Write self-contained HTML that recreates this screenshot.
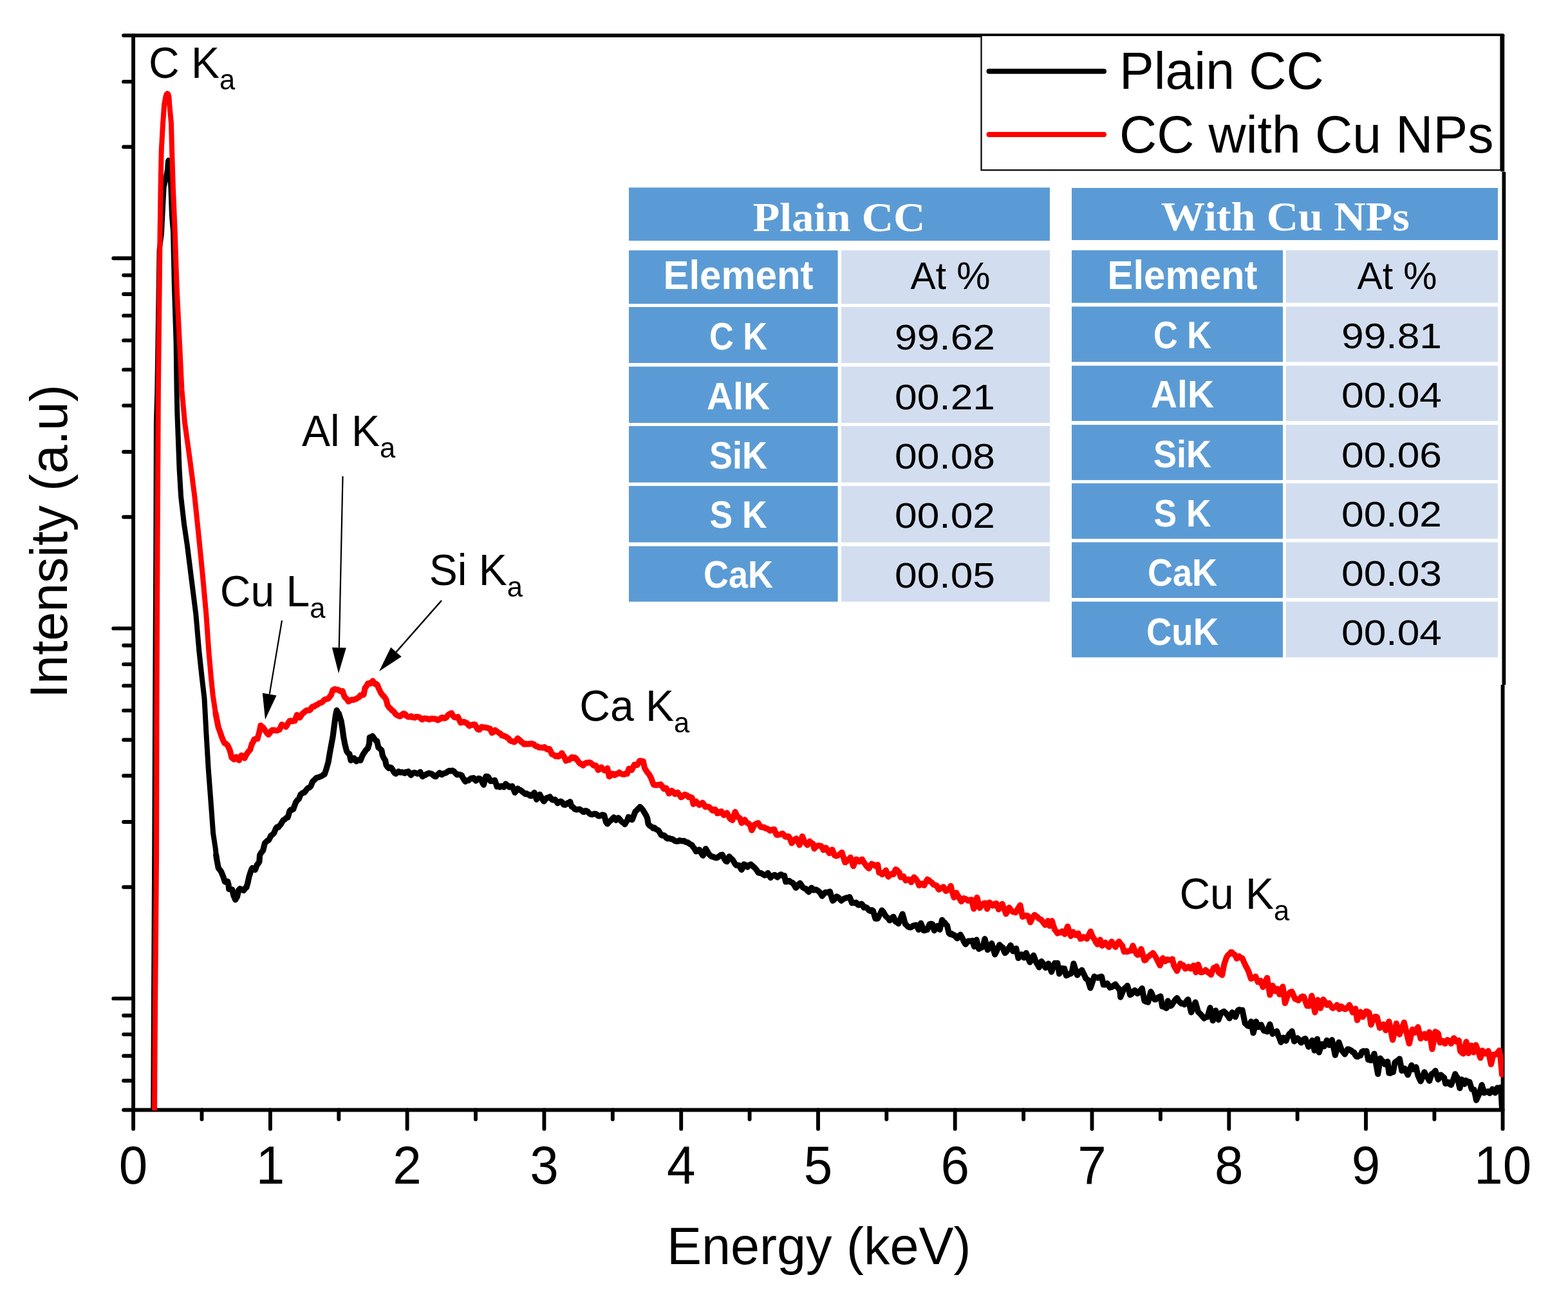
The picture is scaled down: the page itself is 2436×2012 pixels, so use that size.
<!DOCTYPE html>
<html lang="en"><head><meta charset="utf-8"><title>EDS spectra: Plain CC vs CC with Cu NPs</title>
<style>html,body{margin:0;padding:0;background:#fff}body{width:2436px;height:2012px;overflow:hidden}svg{display:block}text{font-family:"Liberation Sans",sans-serif;fill:#000}.ser{font-family:"Liberation Serif",serif;font-weight:bold;fill:#fff}.tb{font-weight:bold;fill:#fff}</style></head><body>
<svg width="2436" height="2012" viewBox="0 0 2436 2012" role="img" aria-label="EDS spectra of plain carbon cloth and carbon cloth with Cu nanoparticles">
<rect width="2436" height="2012" fill="#fff"/>
<g stroke="#000" stroke-width="5.9" stroke-linecap="round" fill="none">
<path d="M207.1,55.1 V1753.9"/>
<path d="M192.1,55.1 H2334.6"/>
<path d="M192.1,1724.5 H2334.6"/>
<path stroke-linecap="butt" d="M2334.3,55.1 V267 M2334.6,1064 V1724.5"/>
<path d="M2334.6,1724.5 V1753.9"/>
<path d="M176.3,401.3 H207.1 M176.3,976.4 H207.1 M176.3,1551.4 H207.1 M192.1,228.2 H207.1 M192.1,126.9 H207.1 M192.1,803.2 H207.1 M192.1,702.0 H207.1 M192.1,630.1 H207.1 M192.1,574.4 H207.1 M192.1,528.9 H207.1 M192.1,490.4 H207.1 M192.1,457.0 H207.1 M192.1,427.6 H207.1 M192.1,1378.3 H207.1 M192.1,1277.0 H207.1 M192.1,1205.2 H207.1 M192.1,1149.5 H207.1 M192.1,1103.9 H207.1 M192.1,1065.4 H207.1 M192.1,1032.1 H207.1 M192.1,1002.7 H207.1 M192.1,1679.0 H207.1 M192.1,1640.5 H207.1 M192.1,1607.1 H207.1 M192.1,1577.7 H207.1"/>
<path d="M419.9,1724.5 V1753.9 M632.6,1724.5 V1753.9 M845.4,1724.5 V1753.9 M1058.2,1724.5 V1753.9 M1271.0,1724.5 V1753.9 M1483.7,1724.5 V1753.9 M1696.5,1724.5 V1753.9 M1909.3,1724.5 V1753.9 M2122.0,1724.5 V1753.9 M313.5,1724.5 V1739.0 M526.3,1724.5 V1739.0 M739.0,1724.5 V1739.0 M951.8,1724.5 V1739.0 M1164.6,1724.5 V1739.0 M1377.3,1724.5 V1739.0 M1590.1,1724.5 V1739.0 M1802.9,1724.5 V1739.0 M2015.6,1724.5 V1739.0 M2228.4,1724.5 V1739.0"/>
</g>
<clipPath id="pc"><rect x="207.1" y="55.1" width="2128.7" height="1670.2"/></clipPath>
<g clip-path="url(#pc)" fill="none" stroke-linejoin="round" stroke-linecap="round" stroke-width="8">
<path stroke="#000" d="M238.2,1730.0 L238.9,1568.0 L240.2,1328.0 L241.2,1088.0 L242.3,848.0 L242.9,657.0 L244.3,608.0 L247.6,388.0 L251.0,363.0 L253.1,320.0 L254.6,291.4 L258.0,275.0 L260.2,262.0 L261.0,250.5 L261.8,249.0 L262.6,251.0 L263.4,263.0 L265.4,291.0 L266.9,334.0 L269.0,360.0 L270.9,445.7 L273.6,531.4 L274.6,608.0 L275.4,643.0 L277.0,685.7 L278.6,728.6 L281.1,771.4 L286.0,814.3 L291.0,848.0 L297.1,897.0 L304.3,954.0 L309.3,1011.4 L313.9,1054.3 L317.5,1085.0 L320.3,1137.0 L323.7,1194.3 L328.0,1251.4 L331.1,1294.3 L335.0,1320.0 L335.7,1328.6"/>
<path stroke="#000" stroke-width="9.2" d="M335.7,1328.6 L337.1,1337.1 L339.3,1348.6 L341.4,1351.3 L343.6,1354.3 L345.4,1358.6 L347.1,1362.9 L349.3,1370.0 L351.4,1370.5 L353.6,1369.3 L355.0,1374.3 L355.7,1381.4 L358.2,1381.7 L360.7,1382.1 L362.9,1391.4 L365.7,1397.9 L368.6,1392.9 L370.7,1382.9 L372.9,1380.7 L374.8,1381.7 L376.7,1382.8 L378.6,1383.6 L380.7,1380.4 L382.9,1378.6 L385.0,1371.4 L387.1,1361.4 L388.9,1356.1 L390.7,1350.7 L392.1,1348.6 L394.3,1350.3 L396.4,1351.4 L399.3,1343.6 L401.1,1341.6 L402.9,1338.6 L403.6,1328.6 L406.1,1324.3 L408.6,1321.4 L411.4,1310.0 L413.3,1308.2 L415.2,1306.3 L417.1,1305.7 L418.9,1302.6 L420.7,1298.6 L423.2,1296.8 L425.7,1294.3 L428.6,1287.1 L430.5,1284.8 L432.4,1285.3 L434.3,1282.9 L436.2,1280.8 L438.1,1277.4 L440.0,1274.3 L442.4,1273.1 L444.8,1270.7 L447.1,1270.0 L450.0,1260.0 L451.9,1258.1 L453.8,1258.2 L455.7,1257.1 L457.9,1250.9 L460.0,1245.7 L462.1,1243.0 L464.3,1241.4 L467.1,1234.3 L469.0,1232.8 L471.0,1231.4 L472.9,1231.4 L475.0,1228.5 L477.1,1225.7 L479.0,1224.2 L481.0,1223.5 L482.9,1221.4 L485.7,1214.3 L487.6,1212.4 L489.5,1210.8 L491.4,1208.6 L493.6,1207.9 L495.7,1207.5 L497.9,1206.3 L500.0,1205.7 L502.1,1203.8 L504.3,1202.9 L507.1,1194.3 L510.0,1184.3 L512.1,1171.4 L515.0,1155.7 L517.1,1144.3 L519.3,1127.1 L521.4,1111.4 L523.1,1103.6 L524.8,1106.9 L526.4,1108.6 L528.2,1114.8 L530.0,1120.0 L532.1,1132.9 L533.6,1144.3 L535.7,1155.7 L538.6,1167.1 L540.7,1170.0 L542.9,1171.4 L545.0,1181.4 L547.5,1180.1 L550.0,1177.9 L551.8,1180.0 L553.6,1182.9 L556.4,1180.7 L558.2,1180.5 L560.0,1181.4 L562.9,1174.3 L564.6,1171.1 L566.4,1168.6 L568.9,1164.9 L571.4,1162.9 L573.6,1155.7 L574.3,1145.7 L576.4,1145.2 L578.6,1143.6 L580.4,1145.9 L582.1,1148.6 L583.9,1150.7 L585.7,1151.4 L587.9,1161.4 L590.4,1163.3 L592.9,1165.7 L594.3,1173.6 L596.4,1178.2 L598.6,1181.4 L600.0,1188.6 L602.1,1191.8 L604.3,1193.6 L606.1,1192.2 L607.9,1192.9 L609.6,1195.2 L611.4,1198.6 L613.2,1201.2 L615.0,1202.1 L617.1,1200.3 L619.3,1198.6 L621.8,1200.1 L624.3,1199.7 L626.4,1200.4 L628.6,1201.4 L630.5,1199.6 L632.4,1199.8 L634.3,1198.6 L636.4,1202.0 L638.6,1204.3 L640.4,1202.0 L642.1,1200.7 L644.3,1200.4 L646.4,1201.3 L648.6,1202.1 L650.7,1201.6 L652.9,1199.3 L654.6,1203.2 L656.4,1206.4 L658.6,1204.6 L660.7,1204.3 L662.5,1202.7 L664.3,1202.1 L666.4,1201.2 L668.6,1201.9 L670.7,1202.2 L672.9,1204.3 L675.0,1206.0 L677.1,1206.4 L679.0,1203.9 L681.0,1202.7 L682.9,1200.7 L684.6,1202.0 L686.4,1203.6 L688.6,1201.9 L690.7,1201.4 L693.2,1200.5 L695.7,1198.6 L698.1,1197.4 L700.5,1197.9 L702.9,1197.1 L705.2,1198.5 L707.6,1201.3 L710.0,1203.6 L712.4,1203.2 L714.8,1203.6 L717.1,1204.3 L719.0,1208.4 L721.0,1211.4 L722.9,1214.3 L725.2,1212.7 L727.6,1212.7 L730.0,1210.7 L731.9,1209.4 L733.8,1209.1 L735.7,1208.6 L737.5,1211.4 L739.3,1212.9 L741.4,1211.4 L743.6,1209.3 L745.7,1209.9 L747.9,1212.1 L749.6,1216.4 L751.4,1219.3 L753.2,1212.6 L755.0,1206.4 L756.8,1206.3 L758.6,1207.1 L760.4,1210.8 L762.1,1213.6 L763.9,1213.2 L765.7,1213.6 L768.6,1212.1 L770.4,1216.9 L772.1,1222.1 L774.3,1221.6 L776.4,1222.9 L778.2,1221.3 L780.0,1221.4 L782.9,1222.9 L785.7,1217.9 L787.6,1219.7 L789.5,1220.7 L791.4,1222.9 L793.6,1222.3 L795.7,1221.4 L797.9,1226.3 L800.0,1231.4 L802.1,1228.1 L804.3,1225.0 L806.2,1227.1 L808.1,1227.3 L810.0,1228.6 L812.1,1230.5 L814.3,1232.1 L816.2,1233.6 L818.1,1232.9 L820.0,1234.3 L821.9,1234.3 L823.8,1236.5 L825.7,1236.4 L827.9,1234.6 L830.0,1231.4 L831.8,1236.5 L833.6,1242.1 L836.1,1237.7 L838.6,1234.3 L840.7,1238.3 L842.9,1242.2 L845.0,1245.0 L847.5,1241.5 L850.0,1239.3 L852.1,1239.5 L854.3,1237.9 L856.4,1241.1 L858.6,1242.9 L860.4,1242.7 L862.1,1242.1 L864.3,1244.8 L866.4,1247.9 L868.9,1245.6 L871.4,1245.0 L873.6,1246.6 L875.7,1250.0 L877.9,1250.6 L880.0,1249.3 L881.9,1247.6 L883.8,1247.3 L885.7,1245.7 L887.9,1252.9 L890.2,1254.0 L892.6,1256.8 L895.0,1257.9 L897.5,1257.7 L900.0,1257.1 L901.9,1258.2 L903.8,1259.4 L905.7,1261.4 L907.6,1261.4 L909.5,1259.6 L911.4,1260.0 L913.3,1261.1 L915.2,1263.5 L917.1,1265.0 L919.5,1265.5 L921.9,1264.8 L924.3,1264.3 L926.7,1265.0 L929.0,1267.5 L931.4,1267.9 L933.8,1266.8 L936.2,1265.9 L938.6,1266.4 L941.4,1277.1 L943.6,1280.0 L946.1,1277.0 L948.6,1275.0 L951.1,1272.4 L953.6,1270.0 L955.4,1271.3 L957.1,1274.3 L958.9,1271.9 L960.7,1270.7 L962.9,1273.0 L965.0,1275.7 L966.9,1277.5 L968.8,1278.3 L970.7,1280.7 L972.5,1277.6 L974.3,1275.0 L976.4,1269.3 L978.3,1271.5 L980.2,1273.1 L982.1,1273.6 L984.6,1267.3 L987.1,1260.7 L989.5,1258.7 L991.9,1256.1 L994.3,1253.6 L996.7,1256.0 L999.0,1258.9 L1001.4,1262.9 L1003.6,1266.5 L1005.7,1271.4 L1007.1,1280.0 L1009.0,1282.5 L1011.0,1283.7 L1012.9,1285.0 L1014.8,1286.9 L1016.7,1285.9 L1018.6,1287.9 L1020.7,1289.2 L1022.9,1290.0 L1025.0,1293.5 L1027.1,1297.1 L1029.0,1298.1 L1031.0,1297.7 L1032.9,1298.6 L1035.0,1301.7 L1037.1,1302.9 L1039.5,1302.2 L1041.9,1303.4 L1044.3,1303.6 L1046.7,1305.2 L1049.0,1306.8 L1051.4,1307.1 L1053.6,1306.9 L1055.7,1305.7 L1058.1,1306.4 L1060.5,1306.8 L1062.9,1306.4 L1065.2,1308.4 L1067.6,1308.5 L1070.0,1310.0 L1072.5,1311.8 L1075.0,1312.9 L1076.8,1316.1 L1078.6,1317.9 L1081.4,1322.9 L1083.9,1322.2 L1086.4,1320.0 L1088.3,1323.0 L1090.2,1326.7 L1092.1,1329.3 L1094.3,1324.4 L1096.4,1318.6 L1098.9,1323.0 L1101.4,1327.1 L1103.6,1329.2 L1105.7,1330.7 L1108.1,1331.2 L1110.5,1332.3 L1112.9,1332.9 L1115.0,1332.0 L1117.1,1330.7 L1119.6,1328.4 L1122.1,1327.9 L1123.9,1331.6 L1125.7,1335.0 L1127.5,1337.8 L1129.3,1338.6 L1131.1,1335.1 L1132.9,1330.7 L1135.4,1333.7 L1137.9,1335.7 L1139.8,1338.4 L1141.7,1341.8 L1143.6,1344.3 L1145.7,1344.4 L1147.9,1344.3 L1150.0,1347.8 L1152.1,1351.4 L1153.9,1347.6 L1155.7,1342.9 L1157.6,1343.5 L1159.5,1346.2 L1161.4,1347.1 L1163.9,1344.1 L1166.4,1342.9 L1168.6,1345.0 L1170.7,1346.6 L1172.9,1348.6 L1175.4,1351.6 L1177.9,1355.7 L1180.0,1356.5 L1182.1,1356.4 L1184.0,1357.6 L1186.0,1359.0 L1187.9,1360.0 L1190.4,1359.1 L1192.9,1356.4 L1195.0,1359.6 L1197.1,1363.6 L1199.3,1361.2 L1201.4,1360.3 L1203.6,1359.3 L1205.7,1361.4 L1207.9,1362.9 L1209.8,1360.8 L1211.7,1359.3 L1213.6,1358.6 L1216.1,1360.5 L1218.6,1360.7 L1220.7,1370.0 L1222.6,1369.8 L1224.5,1368.9 L1226.4,1368.6 L1228.9,1370.8 L1231.4,1371.4 L1233.9,1375.1 L1236.4,1379.3 L1238.6,1377.2 L1240.7,1373.9 L1242.9,1372.1 L1245.0,1375.2 L1247.1,1378.6 L1249.6,1380.3 L1252.1,1380.7 L1254.3,1384.0 L1256.4,1385.7 L1258.6,1383.2 L1260.7,1379.3 L1262.5,1380.8 L1264.3,1382.9 L1266.1,1382.7 L1267.9,1382.1 L1270.4,1383.6 L1272.9,1385.7 L1275.0,1388.3 L1277.1,1392.1 L1279.6,1389.3 L1282.1,1386.4 L1284.5,1386.6 L1286.9,1386.2 L1289.3,1385.0 L1291.4,1392.3 L1293.6,1399.3 L1295.7,1398.0 L1297.9,1394.6 L1300.0,1392.9 L1302.4,1394.3 L1304.8,1397.0 L1307.1,1399.3 L1309.0,1397.6 L1311.0,1396.3 L1312.9,1395.7 L1315.2,1394.8 L1317.6,1394.5 L1320.0,1393.6 L1321.8,1398.2 L1323.6,1402.9 L1325.7,1402.2 L1327.9,1403.1 L1330.0,1402.1 L1332.9,1405.7 L1334.8,1406.2 L1336.7,1404.7 L1338.6,1404.3 L1340.4,1406.4 L1342.1,1410.0 L1344.6,1409.4 L1347.1,1410.7 L1350.0,1414.3 L1352.1,1415.3 L1354.3,1413.8 L1356.4,1415.0 L1358.2,1421.3 L1360.0,1427.1 L1361.8,1427.3 L1363.6,1427.1 L1365.7,1422.6 L1367.9,1419.0 L1370.0,1414.3 L1371.9,1416.3 L1373.8,1419.4 L1375.7,1422.9 L1377.9,1425.1 L1380.0,1426.7 L1382.1,1430.0 L1384.0,1428.8 L1386.0,1425.7 L1387.9,1424.3 L1389.6,1427.7 L1391.4,1432.1 L1393.6,1432.7 L1395.7,1435.0 L1397.9,1430.2 L1400.0,1424.9 L1402.1,1420.0 L1404.3,1428.0 L1406.4,1435.7 L1408.6,1437.7 L1410.7,1439.7 L1412.9,1440.7 L1414.9,1440.9 L1416.9,1439.7 L1418.9,1438.0 L1420.9,1437.8 L1422.9,1437.1 L1425.0,1440.2 L1427.1,1444.3 L1428.9,1438.8 L1430.7,1434.3 L1432.9,1440.0 L1435.0,1445.7 L1436.9,1445.7 L1438.8,1444.1 L1440.7,1444.3 L1442.5,1439.7 L1444.3,1435.7 L1446.4,1435.4 L1448.6,1435.7 L1451.4,1445.7 L1453.9,1442.5 L1456.4,1438.6 L1458.2,1441.5 L1460.0,1444.3 L1461.8,1436.9 L1463.6,1429.3 L1465.5,1431.9 L1467.5,1433.4 L1469.5,1436.3 L1471.4,1437.9 L1474.3,1450.0 L1476.4,1451.5 L1478.6,1450.6 L1480.7,1453.0 L1482.9,1452.9 L1485.0,1455.8 L1487.1,1457.9 L1489.6,1454.3 L1492.1,1452.1 L1494.1,1455.8 L1496.1,1459.8 L1498.0,1464.0 L1500.0,1467.1 L1502.1,1464.4 L1504.3,1462.1 L1506.4,1462.0 L1508.6,1462.4 L1510.7,1461.4 L1513.6,1470.7 L1515.4,1465.7 L1517.1,1460.0 L1518.9,1467.5 L1520.7,1474.3 L1522.9,1473.0 L1525.0,1472.2 L1527.1,1470.7 L1530.0,1458.6 L1532.1,1466.9 L1534.3,1475.7 L1536.4,1472.8 L1538.6,1469.6 L1540.7,1465.7 L1543.2,1474.4 L1545.7,1482.9 L1548.1,1478.2 L1550.5,1472.5 L1552.9,1467.9 L1555.4,1470.8 L1557.9,1472.1 L1559.6,1477.0 L1561.4,1480.7 L1563.6,1478.6 L1565.7,1474.7 L1567.9,1472.1 L1570.0,1468.6 L1571.8,1473.0 L1573.6,1477.9 L1576.1,1476.5 L1578.6,1473.6 L1580.4,1481.3 L1582.1,1488.6 L1584.6,1485.4 L1587.1,1482.9 L1588.9,1484.6 L1590.7,1487.9 L1592.5,1484.2 L1594.3,1480.7 L1596.2,1485.5 L1598.1,1490.6 L1600.0,1495.0 L1601.9,1491.4 L1603.8,1487.1 L1605.7,1484.3 L1607.9,1490.3 L1610.0,1495.7 L1612.1,1498.6 L1614.3,1502.9 L1616.1,1498.6 L1617.9,1493.6 L1620.0,1496.3 L1622.1,1500.0 L1624.3,1503.6 L1626.4,1500.9 L1628.6,1497.1 L1631.1,1503.2 L1633.6,1510.0 L1636.1,1502.8 L1638.6,1496.4 L1640.7,1496.5 L1642.9,1496.4 L1645.7,1512.9 L1647.9,1508.9 L1650.0,1504.3 L1651.8,1505.3 L1653.6,1505.0 L1656.4,1515.7 L1658.9,1514.7 L1661.4,1512.9 L1663.2,1513.0 L1665.0,1511.4 L1667.9,1497.1 L1669.8,1503.1 L1671.7,1509.5 L1673.6,1515.0 L1676.0,1511.6 L1678.3,1509.2 L1680.7,1507.1 L1682.9,1511.7 L1685.0,1515.9 L1687.1,1520.7 L1690.0,1522.1 L1692.0,1528.8 L1694.0,1535.0 L1696.0,1529.2 L1698.0,1523.1 L1700.0,1517.1 L1701.9,1518.5 L1703.8,1518.7 L1705.7,1519.3 L1707.6,1518.2 L1709.5,1517.6 L1711.4,1517.1 L1714.3,1530.0 L1716.2,1530.0 L1718.1,1529.4 L1720.0,1527.9 L1722.1,1530.6 L1724.3,1534.3 L1726.4,1533.7 L1728.6,1532.7 L1730.7,1530.6 L1732.9,1529.3 L1735.2,1532.8 L1737.6,1535.4 L1740.0,1539.3 L1740.7,1549.3 L1743.2,1543.3 L1745.7,1537.1 L1747.6,1535.2 L1749.5,1533.5 L1751.4,1531.4 L1753.6,1538.1 L1755.7,1545.7 L1758.1,1544.3 L1760.5,1541.0 L1762.9,1538.6 L1765.0,1540.9 L1767.1,1543.6 L1769.5,1541.6 L1771.9,1538.5 L1774.3,1535.7 L1776.1,1545.4 L1777.9,1555.0 L1779.8,1556.1 L1781.7,1555.6 L1783.6,1557.1 L1785.7,1549.0 L1787.9,1540.7 L1789.8,1544.6 L1791.7,1549.4 L1793.6,1552.9 L1795.4,1553.0 L1797.1,1551.4 L1799.0,1549.8 L1801.0,1549.0 L1802.9,1547.9 L1805.7,1563.6 L1807.9,1563.8 L1810.0,1565.3 L1812.1,1566.4 L1814.3,1555.0 L1816.4,1559.4 L1818.6,1562.9 L1820.6,1561.2 L1822.6,1558.0 L1824.6,1555.2 L1826.6,1552.5 L1828.6,1550.7 L1830.7,1554.1 L1832.9,1557.1 L1835.2,1559.2 L1837.6,1558.8 L1840.0,1560.7 L1841.9,1558.6 L1843.8,1554.6 L1845.7,1552.9 L1848.2,1562.6 L1850.7,1572.9 L1852.9,1567.3 L1855.0,1562.6 L1857.1,1557.1 L1859.3,1564.5 L1861.4,1572.1 L1863.9,1574.4 L1866.4,1577.1 L1868.6,1579.9 L1870.7,1582.1 L1873.2,1580.3 L1875.7,1580.0 L1877.9,1573.1 L1880.0,1565.7 L1882.1,1575.5 L1884.3,1585.7 L1886.4,1577.9 L1888.6,1570.0 L1890.7,1576.9 L1892.9,1584.3 L1895.0,1578.6 L1897.1,1573.6 L1899.3,1572.6 L1901.4,1571.4 L1903.6,1573.4 L1905.7,1575.7 L1907.9,1578.7 L1910.0,1582.1 L1912.1,1577.4 L1914.3,1572.9 L1916.8,1576.5 L1919.3,1580.0 L1921.4,1574.2 L1923.6,1569.3 L1925.7,1568.7 L1927.9,1569.5 L1930.0,1569.3 L1932.1,1579.7 L1934.3,1590.0 L1936.2,1591.5 L1938.1,1593.6 L1940.0,1594.3 L1941.8,1590.9 L1943.6,1587.1 L1945.4,1596.3 L1947.1,1605.0 L1949.3,1595.9 L1951.4,1587.1 L1953.2,1591.7 L1955.0,1595.7 L1957.1,1594.5 L1959.3,1592.1 L1961.4,1597.3 L1963.6,1601.4 L1966.1,1601.8 L1968.6,1602.9 L1970.7,1596.9 L1972.9,1591.4 L1975.0,1599.3 L1977.1,1606.4 L1979.3,1604.4 L1981.4,1604.6 L1983.6,1602.1 L1985.7,1608.3 L1987.9,1613.2 L1990.0,1619.3 L1991.8,1615.3 L1993.6,1612.1 L1995.7,1615.1 L1997.9,1617.1 L1999.6,1612.9 L2001.4,1609.3 L2003.3,1606.1 L2005.2,1605.2 L2007.1,1602.1 L2008.9,1609.9 L2010.7,1617.9 L2013.2,1615.9 L2015.7,1612.9 L2017.6,1614.5 L2019.5,1617.4 L2021.4,1620.0 L2023.6,1618.2 L2025.7,1614.7 L2027.9,1613.6 L2030.4,1619.7 L2032.9,1626.4 L2034.8,1623.4 L2036.7,1620.4 L2038.6,1616.4 L2040.4,1624.6 L2042.1,1632.1 L2044.3,1622.9 L2046.4,1614.3 L2049.3,1635.0 L2051.4,1628.6 L2053.6,1622.1 L2055.4,1624.4 L2057.1,1625.7 L2059.3,1621.1 L2061.4,1616.4 L2063.2,1620.3 L2065.0,1623.6 L2067.1,1619.2 L2069.3,1615.7 L2071.8,1627.2 L2074.3,1639.3 L2076.2,1632.3 L2078.1,1625.5 L2080.0,1619.3 L2082.1,1625.4 L2084.3,1631.4 L2086.8,1634.7 L2089.3,1637.9 L2091.4,1634.0 L2093.6,1630.0 L2095.6,1630.3 L2097.6,1631.4 L2099.6,1632.4 L2101.6,1634.7 L2103.6,1635.0 L2105.4,1639.0 L2107.1,1641.4 L2109.3,1641.8 L2111.4,1639.7 L2113.6,1640.0 L2115.7,1634.3 L2118.1,1632.9 L2120.5,1634.2 L2122.9,1632.9 L2125.7,1646.4 L2127.6,1646.6 L2129.5,1647.4 L2131.4,1647.1 L2133.2,1642.0 L2135.0,1637.1 L2136.9,1647.6 L2138.8,1658.1 L2140.7,1668.6 L2142.5,1656.4 L2144.3,1644.3 L2146.7,1647.6 L2149.0,1649.5 L2151.4,1653.6 L2153.6,1651.8 L2155.7,1649.3 L2157.9,1667.1 L2160.0,1667.4 L2162.1,1665.6 L2164.3,1665.7 L2167.1,1650.7 L2169.5,1648.7 L2171.9,1647.4 L2174.3,1645.0 L2176.1,1654.2 L2177.9,1663.6 L2180.0,1661.2 L2182.1,1660.0 L2184.6,1664.5 L2187.1,1670.0 L2189.0,1665.0 L2191.0,1659.4 L2192.9,1655.0 L2195.7,1661.4 L2197.9,1660.4 L2200.0,1657.9 L2202.9,1670.7 L2205.0,1675.8 L2207.1,1680.0 L2209.0,1675.5 L2211.0,1670.9 L2212.9,1665.7 L2214.8,1669.3 L2216.8,1672.3 L2218.8,1676.1 L2220.7,1679.3 L2222.5,1673.9 L2224.3,1668.6 L2226.2,1667.9 L2228.1,1665.8 L2230.0,1663.6 L2232.1,1670.1 L2234.3,1677.1 L2236.4,1674.2 L2238.6,1670.0 L2241.1,1672.6 L2243.6,1674.3 L2245.7,1683.6 L2247.9,1683.1 L2250.0,1681.4 L2252.1,1684.2 L2254.3,1685.7 L2256.1,1681.3 L2257.9,1677.1 L2260.7,1668.6 L2262.5,1672.1 L2264.3,1674.3 L2266.1,1682.8 L2267.9,1690.7 L2270.7,1677.1 L2272.9,1681.0 L2275.0,1684.3 L2277.1,1678.6 L2279.0,1679.8 L2281.0,1680.5 L2282.9,1680.7 L2284.6,1686.3 L2286.4,1692.1 L2288.2,1692.9 L2290.0,1692.9 L2291.8,1700.8 L2293.6,1709.3 L2295.7,1704.4 L2297.9,1700.0 L2300.0,1692.8 L2302.1,1685.7 L2303.9,1691.3 L2305.7,1697.9 L2307.6,1696.9 L2309.5,1696.7 L2311.4,1695.7 L2314.3,1698.6 L2316.4,1695.6 L2318.6,1692.1 L2320.7,1694.5 L2322.9,1697.9 L2324.6,1694.5 L2326.4,1690.0 L2328.2,1692.1 L2330.0,1693.6 L2331.7,1689.3 L2332.6,1705.7 L2333.7,1725.7"/>
<path stroke="#ff0000" d="M240.0,1730.0 L241.1,1568.0 L243.1,1328.0 L243.6,1080.0 L244.6,848.0 L245.9,608.0 L248.6,360.0 L249.6,291.0 L250.7,234.3 L253.1,191.4 L255.1,162.9 L257.2,151.0 L258.6,146.2 L260.0,145.2 L261.4,146.2 L262.6,151.0 L263.3,163.0 L266.0,191.0 L267.1,234.0 L268.9,291.0 L271.9,363.0 L274.6,445.7 L278.9,531.4 L282.4,605.0 L287.1,657.0 L295.0,714.0 L302.4,771.4 L310.3,848.0 L315.1,897.0 L320.3,954.0 L324.3,1011.4 L328.1,1054.3 L330.7,1080.0 L335.0,1108.6"/>
<path stroke="#ff0000" stroke-width="9.2" d="M335.0,1108.6 L337.1,1119.3 L339.3,1130.0 L341.8,1137.0 L344.3,1144.3 L346.4,1149.7 L348.6,1154.3 L351.1,1155.6 L353.6,1157.9 L355.4,1161.8 L357.1,1165.7 L360.0,1177.1 L361.8,1178.3 L363.6,1180.0 L365.4,1177.8 L367.1,1176.0 L369.3,1179.5 L371.4,1181.1 L373.2,1176.8 L375.0,1173.6 L377.5,1175.6 L380.0,1177.9 L382.1,1173.5 L384.3,1170.0 L386.4,1167.2 L388.6,1165.0 L391.4,1155.7 L393.2,1152.9 L395.0,1148.6 L397.5,1147.9 L400.0,1147.9 L402.9,1137.1 L405.0,1127.1 L406.8,1128.8 L408.6,1130.0 L410.7,1133.1 L412.9,1136.4 L415.0,1139.4 L417.1,1141.4 L419.0,1138.9 L421.0,1136.0 L422.9,1134.3 L424.8,1134.4 L426.7,1134.6 L428.6,1135.0 L430.5,1135.1 L432.4,1134.2 L434.3,1133.6 L436.1,1129.2 L437.9,1125.7 L440.0,1127.3 L442.1,1127.7 L444.3,1129.3 L446.2,1126.2 L448.1,1122.6 L450.0,1120.0 L452.0,1119.8 L453.9,1120.6 L455.9,1120.0 L457.9,1120.0 L459.6,1115.6 L461.4,1110.7 L463.6,1113.4 L465.7,1115.0 L467.9,1111.9 L470.0,1108.6 L472.1,1107.2 L474.3,1105.0 L476.4,1103.6 L478.3,1103.6 L480.2,1103.6 L482.1,1102.9 L483.9,1099.6 L485.7,1097.9 L488.1,1097.8 L490.5,1095.7 L492.9,1095.0 L495.2,1093.1 L497.6,1091.9 L500.0,1091.4 L501.9,1089.4 L503.8,1087.2 L505.7,1086.4 L507.9,1085.9 L510.0,1085.7 L512.1,1082.7 L514.3,1080.0 L517.1,1072.1 L520.0,1070.7 L522.1,1071.4 L524.3,1071.4 L526.4,1072.4 L528.6,1073.6 L530.4,1074.4 L532.1,1073.6 L535.0,1082.1 L536.8,1084.2 L538.6,1085.7 L541.4,1090.0 L543.9,1088.2 L546.4,1087.1 L548.9,1087.5 L551.4,1086.4 L553.6,1085.8 L555.7,1084.3 L557.9,1083.1 L560.0,1080.0 L562.5,1080.1 L565.0,1079.3 L567.1,1068.6 L569.3,1066.2 L571.4,1062.1 L573.6,1061.6 L575.7,1062.1 L577.5,1059.6 L579.3,1057.9 L581.1,1061.2 L582.9,1062.9 L584.6,1062.6 L586.4,1064.3 L588.2,1069.1 L590.0,1072.9 L592.1,1077.1 L594.3,1080.0 L596.2,1081.7 L598.1,1084.1 L600.0,1087.1 L602.1,1095.7 L604.6,1099.4 L607.1,1101.4 L609.3,1104.1 L611.4,1105.0 L614.3,1109.3 L616.7,1111.2 L619.0,1112.1 L621.4,1112.9 L623.3,1111.9 L625.2,1109.6 L627.1,1108.6 L629.3,1109.3 L631.4,1112.2 L633.6,1113.6 L636.1,1113.8 L638.6,1112.6 L640.5,1114.3 L642.4,1114.2 L644.3,1115.0 L646.4,1113.7 L648.6,1113.7 L650.7,1114.0 L653.2,1115.8 L655.7,1117.9 L657.6,1116.8 L659.5,1116.0 L661.4,1116.4 L663.3,1116.3 L665.2,1117.4 L667.1,1117.9 L669.0,1116.8 L671.0,1116.4 L672.9,1116.9 L675.2,1116.9 L677.6,1117.3 L680.0,1118.9 L681.9,1118.1 L683.8,1117.0 L685.7,1115.0 L687.6,1114.7 L689.5,1115.9 L691.4,1116.0 L693.6,1114.5 L695.7,1111.4 L697.6,1109.7 L699.5,1108.7 L701.4,1107.9 L703.6,1111.7 L705.7,1114.3 L707.6,1114.6 L709.5,1114.1 L711.4,1113.6 L713.6,1118.6 L715.7,1122.9 L717.9,1122.3 L720.0,1121.4 L721.9,1121.8 L723.8,1123.2 L725.7,1123.6 L727.5,1126.3 L729.3,1127.9 L731.4,1126.3 L733.6,1126.4 L735.7,1125.7 L737.9,1125.7 L739.6,1128.6 L741.4,1132.1 L743.2,1133.6 L745.0,1133.6 L746.8,1131.0 L748.6,1129.3 L751.0,1130.1 L753.3,1130.1 L755.7,1130.7 L757.6,1130.9 L759.5,1131.7 L761.4,1132.1 L764.3,1138.6 L766.8,1137.2 L769.3,1134.3 L771.8,1136.4 L774.3,1137.9 L776.2,1139.3 L778.1,1140.5 L780.0,1142.9 L781.9,1143.0 L783.8,1143.8 L785.7,1144.3 L787.9,1146.0 L790.0,1147.1 L792.1,1150.3 L794.3,1151.4 L796.4,1151.8 L798.6,1152.9 L800.5,1151.8 L802.4,1149.9 L804.3,1147.1 L806.2,1148.9 L808.1,1150.4 L810.0,1152.9 L811.9,1153.5 L813.8,1156.1 L815.7,1156.4 L817.6,1155.5 L819.5,1156.2 L821.4,1155.7 L823.3,1156.0 L825.2,1155.0 L827.1,1155.7 L829.0,1156.0 L831.0,1158.4 L832.9,1159.3 L835.0,1159.5 L837.1,1161.4 L839.3,1161.5 L841.4,1161.4 L843.6,1162.0 L845.7,1160.7 L847.9,1162.4 L850.0,1164.3 L851.8,1163.6 L853.6,1163.6 L855.4,1167.0 L857.1,1171.4 L859.0,1172.2 L861.0,1173.5 L862.9,1175.0 L864.8,1174.2 L866.7,1175.4 L868.6,1175.0 L870.7,1172.7 L872.9,1170.0 L874.6,1173.2 L876.4,1175.7 L879.3,1182.1 L881.8,1180.6 L884.3,1180.7 L886.4,1178.1 L888.6,1176.4 L890.7,1178.0 L892.9,1176.9 L895.0,1178.6 L897.1,1181.2 L899.3,1184.3 L901.4,1186.6 L903.6,1187.1 L905.7,1189.3 L908.2,1186.6 L910.7,1185.0 L912.9,1185.3 L915.0,1184.5 L917.1,1185.0 L919.6,1186.8 L922.1,1189.3 L923.9,1189.1 L925.7,1189.3 L927.5,1192.6 L929.3,1196.4 L931.8,1194.6 L934.3,1192.1 L936.8,1195.1 L939.3,1197.1 L941.4,1195.9 L943.6,1193.6 L946.4,1206.4 L948.6,1205.2 L950.7,1202.1 L952.9,1202.4 L955.0,1204.3 L957.4,1202.4 L959.8,1202.4 L962.1,1200.0 L964.6,1202.0 L967.1,1202.9 L969.5,1203.1 L971.9,1201.8 L974.3,1202.1 L977.1,1194.3 L979.3,1194.6 L981.4,1196.4 L983.6,1191.8 L985.7,1187.9 L987.9,1189.0 L990.0,1188.6 L991.8,1185.7 L993.6,1182.1 L995.5,1182.1 L997.4,1182.9 L999.3,1182.9 L1001.4,1192.9 L1003.6,1196.8 L1005.7,1200.0 L1007.9,1202.4 L1010.0,1205.7 L1011.9,1209.7 L1013.8,1215.1 L1015.7,1219.3 L1017.6,1219.7 L1019.5,1219.9 L1021.4,1219.3 L1023.9,1219.4 L1026.4,1218.6 L1028.9,1221.9 L1031.4,1225.7 L1033.2,1225.3 L1035.0,1224.3 L1037.1,1228.4 L1039.3,1232.9 L1041.4,1231.5 L1043.6,1228.6 L1046.1,1230.3 L1048.6,1233.6 L1050.7,1232.9 L1052.9,1231.4 L1055.4,1234.7 L1057.9,1238.6 L1059.8,1238.0 L1061.7,1236.3 L1063.6,1234.3 L1065.7,1235.1 L1067.9,1236.2 L1070.0,1238.6 L1072.5,1238.4 L1075.0,1239.3 L1077.1,1249.3 L1079.3,1248.1 L1081.4,1245.0 L1083.9,1248.4 L1086.4,1250.7 L1088.9,1249.3 L1091.4,1247.1 L1093.6,1249.8 L1095.7,1253.6 L1097.6,1253.0 L1099.5,1253.5 L1101.4,1253.6 L1103.3,1255.5 L1105.2,1257.6 L1107.1,1259.3 L1109.3,1257.7 L1111.4,1257.9 L1114.3,1263.6 L1116.4,1263.3 L1118.6,1261.2 L1120.7,1260.7 L1122.5,1263.9 L1124.3,1266.4 L1126.8,1264.3 L1129.3,1262.9 L1131.1,1266.1 L1132.9,1270.0 L1135.4,1272.9 L1137.9,1274.3 L1140.0,1267.6 L1142.1,1261.4 L1143.9,1265.0 L1145.7,1268.6 L1147.5,1270.4 L1149.3,1270.7 L1152.1,1278.6 L1154.6,1276.7 L1157.1,1273.6 L1158.9,1276.5 L1160.7,1278.6 L1162.9,1279.5 L1165.0,1281.4 L1167.9,1290.0 L1170.0,1285.9 L1172.1,1281.4 L1174.0,1280.4 L1176.0,1279.1 L1177.9,1278.6 L1180.0,1282.3 L1182.1,1285.0 L1184.3,1285.3 L1186.4,1285.0 L1188.9,1286.9 L1191.4,1287.1 L1193.9,1288.8 L1196.4,1290.7 L1198.6,1289.3 L1200.7,1288.8 L1202.9,1288.6 L1204.6,1293.2 L1206.4,1297.1 L1208.9,1297.2 L1211.4,1296.4 L1213.6,1296.0 L1215.7,1295.0 L1217.9,1297.3 L1220.0,1300.0 L1221.9,1300.2 L1223.8,1299.1 L1225.7,1300.0 L1227.9,1304.5 L1230.0,1310.0 L1232.1,1307.7 L1234.3,1304.3 L1237.1,1302.9 L1239.6,1307.3 L1242.1,1312.9 L1244.3,1306.2 L1246.4,1299.3 L1248.2,1303.7 L1250.0,1308.6 L1252.1,1310.1 L1254.3,1312.9 L1256.1,1310.5 L1257.9,1307.1 L1260.4,1309.7 L1262.9,1310.7 L1265.0,1318.6 L1267.1,1316.1 L1269.3,1314.3 L1271.4,1313.6 L1273.6,1314.2 L1275.7,1314.3 L1277.5,1316.9 L1279.3,1320.7 L1281.1,1319.8 L1282.9,1317.1 L1284.8,1319.2 L1286.7,1322.9 L1288.6,1325.7 L1290.7,1322.2 L1292.9,1320.0 L1294.6,1323.7 L1296.4,1328.6 L1298.9,1329.9 L1301.4,1329.3 L1303.6,1328.0 L1305.7,1326.4 L1307.9,1324.3 L1310.4,1332.4 L1312.9,1340.0 L1315.0,1338.4 L1317.1,1335.7 L1319.3,1334.1 L1321.4,1332.1 L1323.6,1339.1 L1325.7,1345.7 L1327.9,1340.1 L1330.0,1335.0 L1332.5,1336.0 L1335.0,1338.6 L1337.1,1337.2 L1339.3,1335.0 L1341.8,1339.3 L1344.3,1342.9 L1346.2,1345.5 L1348.1,1347.4 L1350.0,1349.3 L1352.1,1345.0 L1354.3,1342.1 L1356.2,1343.6 L1358.1,1343.7 L1360.0,1345.7 L1361.8,1345.4 L1363.6,1343.6 L1365.7,1355.7 L1368.2,1356.2 L1370.7,1358.6 L1372.6,1356.0 L1374.5,1354.4 L1376.4,1352.1 L1378.2,1357.5 L1380.0,1362.1 L1382.1,1360.3 L1384.3,1357.9 L1386.1,1357.5 L1387.9,1358.6 L1389.6,1354.9 L1391.4,1350.7 L1393.3,1351.8 L1395.2,1353.7 L1397.1,1355.7 L1399.3,1362.9 L1401.4,1361.9 L1403.6,1361.4 L1405.4,1365.1 L1407.1,1367.9 L1409.6,1366.6 L1412.1,1366.4 L1413.9,1368.2 L1415.7,1370.7 L1417.9,1366.4 L1420.0,1362.9 L1422.5,1365.2 L1425.0,1368.6 L1427.9,1375.7 L1430.0,1373.7 L1432.1,1372.9 L1433.9,1374.1 L1435.7,1375.7 L1438.2,1370.6 L1440.7,1366.4 L1443.2,1367.7 L1445.7,1370.0 L1447.9,1371.4 L1450.0,1374.3 L1452.5,1375.2 L1455.0,1375.7 L1456.8,1379.2 L1458.6,1382.1 L1461.0,1380.2 L1463.3,1379.2 L1465.7,1377.9 L1467.5,1381.2 L1469.3,1384.3 L1471.1,1383.8 L1472.9,1381.4 L1475.0,1379.9 L1477.1,1376.4 L1479.3,1385.7 L1482.1,1394.3 L1483.9,1390.2 L1485.7,1387.1 L1487.5,1390.8 L1489.3,1392.9 L1491.4,1397.3 L1493.6,1400.7 L1495.4,1397.7 L1497.1,1395.7 L1499.5,1396.3 L1501.9,1398.1 L1504.3,1399.3 L1506.8,1398.1 L1509.3,1397.9 L1511.1,1404.9 L1512.9,1412.1 L1515.4,1403.1 L1517.9,1394.3 L1520.0,1402.5 L1522.1,1410.7 L1524.6,1407.6 L1527.1,1404.3 L1529.6,1403.0 L1532.1,1403.6 L1533.6,1412.1 L1535.4,1407.1 L1537.1,1402.1 L1539.6,1404.1 L1542.1,1407.1 L1544.0,1406.8 L1546.0,1404.0 L1547.9,1403.6 L1549.6,1407.8 L1551.4,1412.9 L1553.3,1409.7 L1555.2,1406.7 L1557.1,1404.3 L1559.0,1409.9 L1561.0,1414.3 L1562.9,1420.0 L1565.4,1415.6 L1567.9,1410.0 L1570.0,1413.1 L1572.1,1415.7 L1574.0,1416.9 L1576.0,1416.7 L1577.9,1417.9 L1580.2,1414.1 L1582.6,1409.8 L1585.0,1406.4 L1586.8,1415.5 L1588.6,1424.3 L1590.7,1423.7 L1592.9,1422.9 L1595.0,1422.4 L1597.1,1422.9 L1598.9,1427.7 L1600.7,1432.9 L1602.9,1428.3 L1605.0,1424.6 L1607.1,1421.4 L1609.3,1423.0 L1611.4,1424.3 L1613.3,1426.7 L1615.2,1427.9 L1617.1,1428.6 L1619.3,1431.1 L1621.4,1434.0 L1623.6,1437.1 L1625.7,1434.2 L1627.9,1430.7 L1630.7,1438.6 L1632.5,1434.6 L1634.3,1430.7 L1636.4,1437.8 L1638.6,1444.3 L1640.7,1446.6 L1642.9,1450.0 L1645.2,1448.8 L1647.6,1449.0 L1650.0,1447.1 L1652.1,1448.9 L1654.3,1451.4 L1656.4,1445.6 L1658.6,1439.3 L1661.1,1446.7 L1663.6,1454.3 L1665.4,1451.1 L1667.1,1447.9 L1668.9,1451.0 L1670.7,1452.9 L1672.9,1452.4 L1675.0,1450.0 L1676.8,1454.4 L1678.6,1458.6 L1680.7,1458.1 L1682.9,1455.7 L1684.8,1456.2 L1686.7,1457.3 L1688.6,1458.6 L1690.5,1454.5 L1692.4,1450.7 L1694.3,1447.1 L1696.4,1452.8 L1698.6,1457.1 L1700.7,1459.9 L1702.9,1464.4 L1705.0,1467.1 L1707.1,1463.9 L1709.3,1460.0 L1712.1,1469.3 L1714.6,1467.0 L1717.1,1464.3 L1719.0,1466.6 L1721.0,1469.7 L1722.9,1471.4 L1725.0,1466.5 L1727.1,1462.9 L1729.0,1466.5 L1731.0,1468.3 L1732.9,1471.4 L1734.8,1468.1 L1736.7,1464.8 L1738.6,1462.9 L1741.1,1466.6 L1743.6,1469.3 L1746.4,1478.6 L1748.6,1477.4 L1750.7,1478.8 L1752.9,1477.9 L1755.0,1477.0 L1757.1,1477.1 L1760.0,1469.3 L1761.9,1474.2 L1763.8,1478.0 L1765.7,1482.1 L1767.5,1483.5 L1769.3,1482.9 L1771.1,1478.0 L1772.9,1474.3 L1775.4,1483.1 L1777.9,1492.1 L1780.0,1491.2 L1782.1,1487.4 L1784.3,1486.4 L1786.7,1484.1 L1789.0,1482.3 L1791.4,1480.7 L1793.9,1484.6 L1796.4,1488.6 L1798.3,1492.6 L1800.2,1496.0 L1802.1,1500.0 L1804.3,1494.1 L1806.4,1488.6 L1808.2,1490.8 L1810.0,1493.6 L1811.8,1491.9 L1813.6,1490.7 L1815.4,1491.4 L1817.1,1491.4 L1819.3,1491.5 L1821.4,1490.0 L1823.6,1500.0 L1826.1,1504.4 L1828.6,1508.6 L1831.1,1502.6 L1833.6,1497.1 L1835.7,1499.1 L1837.9,1499.3 L1839.6,1501.8 L1841.4,1505.0 L1843.9,1504.0 L1846.4,1502.1 L1848.2,1504.1 L1850.0,1505.0 L1852.1,1502.5 L1854.3,1500.0 L1856.1,1505.1 L1857.9,1510.7 L1859.6,1504.5 L1861.4,1498.6 L1863.6,1504.9 L1865.7,1510.7 L1868.1,1510.5 L1870.5,1509.2 L1872.9,1507.1 L1875.0,1508.8 L1877.1,1511.0 L1879.3,1512.4 L1881.4,1514.3 L1883.6,1508.6 L1885.7,1503.6 L1887.9,1503.2 L1890.0,1501.4 L1891.8,1506.6 L1893.6,1511.4 L1896.1,1512.9 L1898.6,1515.0 L1900.4,1505.8 L1902.1,1497.1 L1903.9,1492.3 L1905.7,1487.1 L1907.9,1483.6 L1910.0,1482.5 L1912.1,1479.3 L1914.0,1479.6 L1916.0,1482.4 L1917.9,1482.9 L1919.6,1485.4 L1921.4,1489.3 L1923.2,1486.6 L1925.0,1485.7 L1927.5,1488.0 L1930.0,1488.6 L1932.1,1493.8 L1934.3,1498.6 L1936.2,1502.3 L1938.1,1505.8 L1940.0,1510.0 L1941.8,1515.6 L1943.6,1520.7 L1946.0,1518.8 L1948.3,1519.2 L1950.7,1517.1 L1952.5,1521.8 L1954.3,1525.7 L1956.4,1525.2 L1958.6,1523.6 L1960.4,1529.1 L1962.1,1533.6 L1964.3,1529.4 L1966.4,1524.6 L1968.6,1519.3 L1970.7,1532.3 L1972.9,1545.7 L1975.0,1538.4 L1977.1,1531.4 L1979.3,1535.2 L1981.4,1540.0 L1983.2,1538.1 L1985.0,1536.4 L1987.9,1545.0 L1990.4,1539.4 L1992.9,1532.9 L1994.6,1545.9 L1996.4,1558.6 L1998.9,1551.5 L2001.4,1544.3 L2003.3,1542.7 L2005.2,1541.0 L2007.1,1540.7 L2009.6,1546.6 L2012.1,1552.1 L2014.6,1552.8 L2017.1,1554.3 L2019.3,1551.6 L2021.4,1549.3 L2023.6,1548.0 L2025.7,1548.6 L2028.2,1556.1 L2030.7,1562.9 L2032.5,1562.2 L2034.3,1562.9 L2036.1,1554.8 L2037.9,1547.1 L2040.4,1560.0 L2042.9,1572.9 L2045.0,1563.0 L2047.1,1553.6 L2049.3,1559.9 L2051.4,1566.4 L2053.6,1560.0 L2055.7,1552.9 L2057.6,1555.7 L2059.5,1557.7 L2061.4,1561.4 L2063.2,1560.0 L2065.0,1558.6 L2066.9,1561.6 L2068.8,1564.6 L2070.7,1566.4 L2072.9,1565.1 L2075.0,1564.1 L2077.1,1561.4 L2078.9,1565.0 L2080.7,1567.9 L2083.6,1563.6 L2085.7,1565.1 L2087.9,1567.0 L2090.0,1567.9 L2092.1,1566.6 L2094.3,1564.4 L2096.4,1561.4 L2098.9,1566.7 L2101.4,1572.9 L2103.6,1570.8 L2105.7,1567.1 L2108.6,1585.0 L2111.1,1578.6 L2113.6,1572.1 L2115.4,1576.4 L2117.1,1580.0 L2119.6,1576.0 L2122.1,1571.4 L2124.6,1571.8 L2127.1,1573.6 L2130.0,1592.1 L2132.1,1586.5 L2134.3,1580.7 L2136.8,1579.4 L2139.3,1580.0 L2141.4,1588.6 L2143.6,1597.1 L2145.5,1594.7 L2147.4,1592.5 L2149.3,1591.4 L2151.1,1596.1 L2152.9,1600.7 L2155.4,1594.0 L2157.9,1587.1 L2159.8,1596.4 L2161.7,1606.3 L2163.6,1615.7 L2165.5,1607.5 L2167.4,1598.6 L2169.3,1590.0 L2171.8,1598.4 L2174.3,1607.1 L2176.7,1600.9 L2179.0,1594.6 L2181.4,1588.6 L2183.4,1596.8 L2185.4,1605.2 L2187.3,1613.4 L2189.3,1621.4 L2191.8,1610.2 L2194.3,1599.3 L2196.4,1602.7 L2198.6,1604.3 L2200.7,1600.7 L2202.9,1595.7 L2205.0,1604.6 L2207.1,1613.6 L2209.0,1611.1 L2211.0,1608.5 L2212.9,1606.4 L2215.7,1612.9 L2218.2,1607.5 L2220.7,1603.6 L2222.9,1616.9 L2225.0,1630.0 L2227.5,1616.5 L2230.0,1602.9 L2232.1,1604.1 L2234.3,1605.7 L2237.1,1620.0 L2239.3,1618.1 L2241.4,1617.1 L2243.2,1619.6 L2245.0,1621.4 L2246.8,1617.8 L2248.6,1615.7 L2251.4,1617.1 L2254.3,1621.4 L2256.4,1617.1 L2258.6,1612.9 L2260.7,1615.3 L2262.9,1618.6 L2264.6,1616.9 L2266.4,1616.4 L2268.6,1632.9 L2271.1,1635.6 L2273.6,1637.1 L2275.7,1628.1 L2277.9,1618.6 L2279.6,1627.4 L2281.4,1636.4 L2283.6,1630.6 L2285.7,1624.3 L2287.5,1629.3 L2289.3,1635.0 L2291.1,1629.6 L2292.9,1623.6 L2294.6,1628.3 L2296.4,1632.9 L2298.2,1638.6 L2300.0,1643.6 L2302.9,1632.1 L2305.0,1635.5 L2307.1,1637.1 L2309.6,1634.9 L2312.1,1632.9 L2314.3,1643.3 L2316.4,1653.6 L2318.2,1646.3 L2320.0,1638.6 L2322.1,1638.4 L2324.3,1637.9 L2326.8,1635.5 L2329.3,1632.1 L2331.1,1642.9 L2332.4,1657.1 L2333.4,1669.4"/>
</g>
<g font-size="80" text-anchor="middle">
<text transform="translate(207.1,1839.3) scale(1,1.04)">0</text>
<text transform="translate(419.9,1839.3) scale(1,1.04)">1</text>
<text transform="translate(632.6,1839.3) scale(1,1.04)">2</text>
<text transform="translate(845.4,1839.3) scale(1,1.04)">3</text>
<text transform="translate(1058.2,1839.3) scale(1,1.04)">4</text>
<text transform="translate(1271.0,1839.3) scale(1,1.04)">5</text>
<text transform="translate(1483.7,1839.3) scale(1,1.04)">6</text>
<text transform="translate(1696.5,1839.3) scale(1,1.04)">7</text>
<text transform="translate(1909.3,1839.3) scale(1,1.04)">8</text>
<text transform="translate(2122.0,1839.3) scale(1,1.04)">9</text>
<text transform="translate(2334.8,1839.3) scale(1,1.04)">10</text>
</g>
<text transform="translate(1272.2,1964.2) scale(1,1.015)" font-size="81" text-anchor="middle">Energy (keV)</text>
<text transform="translate(104,841.2) rotate(-90) scale(1,1.01)" font-size="80.5" text-anchor="middle">Intensity (a.u)</text>
<rect x="960" y="266.5" width="1380" height="797" fill="#fff"/>
<path d="M2336.4,267 V1064" stroke="#000" stroke-width="5.8" fill="none"/>
<rect x="1524.5" y="55" width="807" height="209.3" fill="#fff" stroke="#000" stroke-width="2.2"/>
<path d="M1536.5,110.8 H1715" stroke="#000" stroke-width="8" stroke-linecap="round"/>
<path d="M1536.5,209 H1715" stroke="#ff0000" stroke-width="8" stroke-linecap="round"/>
<text transform="translate(1739,138.2) scale(1,1.02)" font-size="80.5">Plain CC</text>
<text transform="translate(1739,236.6) scale(1,1.02)" font-size="80.5">CC with Cu NPs</text>
<rect x="977.0" y="291.4" width="654.0" height="82.6" fill="#5b9bd5"/>
<text class="ser" x="1303.5" y="358.5" font-size="64" text-anchor="middle" textLength="268" lengthAdjust="spacingAndGlyphs">Plain CC</text>
<rect x="977.0" y="389.0" width="324.6" height="83.0" fill="#5b9bd5"/>
<rect x="1307.0" y="389.0" width="324.0" height="83.0" fill="#d2deef"/>
<text class="tb" x="1147.0" y="448.7" font-size="63" text-anchor="middle" textLength="233" lengthAdjust="spacingAndGlyphs">Element</text>
<text x="1476.5" y="448.7" font-size="58.5" text-anchor="middle" textLength="124" lengthAdjust="spacingAndGlyphs">At %</text>
<rect x="977.0" y="477.0" width="324.6" height="87.0" fill="#5b9bd5"/>
<rect x="1307.0" y="477.0" width="324.0" height="87.0" fill="#d2deef"/>
<text class="tb" x="1147.0" y="543.4" font-size="58.5" text-anchor="middle" textLength="90" lengthAdjust="spacingAndGlyphs">C K</text>
<text x="1468.0" y="543.4" font-size="55.5" text-anchor="middle" textLength="156" lengthAdjust="spacingAndGlyphs">99.62</text>
<rect x="977.0" y="569.6" width="324.6" height="87.4" fill="#5b9bd5"/>
<rect x="1307.0" y="569.6" width="324.0" height="87.4" fill="#d2deef"/>
<text class="tb" x="1147.0" y="635.6" font-size="58.5" text-anchor="middle" textLength="98" lengthAdjust="spacingAndGlyphs">AlK</text>
<text x="1468.0" y="635.6" font-size="55.5" text-anchor="middle" textLength="156" lengthAdjust="spacingAndGlyphs">00.21</text>
<rect x="977.0" y="662.0" width="324.6" height="87.6" fill="#5b9bd5"/>
<rect x="1307.0" y="662.0" width="324.0" height="87.6" fill="#d2deef"/>
<text class="tb" x="1147.0" y="727.7" font-size="58.5" text-anchor="middle" textLength="90" lengthAdjust="spacingAndGlyphs">SiK</text>
<text x="1468.0" y="727.7" font-size="55.5" text-anchor="middle" textLength="156" lengthAdjust="spacingAndGlyphs">00.08</text>
<rect x="977.0" y="755.0" width="324.6" height="87.6" fill="#5b9bd5"/>
<rect x="1307.0" y="755.0" width="324.0" height="87.6" fill="#d2deef"/>
<text class="tb" x="1147.0" y="820.4" font-size="58.5" text-anchor="middle" textLength="89" lengthAdjust="spacingAndGlyphs">S K</text>
<text x="1468.0" y="820.4" font-size="55.5" text-anchor="middle" textLength="156" lengthAdjust="spacingAndGlyphs">00.02</text>
<rect x="977.0" y="848.6" width="324.6" height="86.2" fill="#5b9bd5"/>
<rect x="1307.0" y="848.6" width="324.0" height="86.2" fill="#d2deef"/>
<text class="tb" x="1147.0" y="913.1" font-size="58.5" text-anchor="middle" textLength="108" lengthAdjust="spacingAndGlyphs">CaK</text>
<text x="1468.0" y="913.1" font-size="55.5" text-anchor="middle" textLength="156" lengthAdjust="spacingAndGlyphs">00.05</text>
<rect x="1665.0" y="292.0" width="662.0" height="81.0" fill="#5b9bd5"/>
<text class="ser" x="1996.8" y="358.0" font-size="64" text-anchor="middle" textLength="386" lengthAdjust="spacingAndGlyphs">With Cu NPs</text>
<rect x="1665.0" y="388.8" width="328.0" height="81.7" fill="#5b9bd5"/>
<rect x="1997.8" y="388.8" width="329.2" height="81.7" fill="#d2deef"/>
<text class="tb" x="1837.0" y="448.6" font-size="63" text-anchor="middle" textLength="233" lengthAdjust="spacingAndGlyphs">Element</text>
<text x="2170.5" y="448.6" font-size="58.5" text-anchor="middle" textLength="124" lengthAdjust="spacingAndGlyphs">At %</text>
<rect x="1665.0" y="476.4" width="328.0" height="85.9" fill="#5b9bd5"/>
<rect x="1997.8" y="476.4" width="329.2" height="85.9" fill="#d2deef"/>
<text class="tb" x="1837.0" y="540.9" font-size="58.5" text-anchor="middle" textLength="90" lengthAdjust="spacingAndGlyphs">C K</text>
<text x="2162.0" y="540.9" font-size="55.5" text-anchor="middle" textLength="156" lengthAdjust="spacingAndGlyphs">99.81</text>
<rect x="1665.0" y="568.2" width="328.0" height="85.9" fill="#5b9bd5"/>
<rect x="1997.8" y="568.2" width="329.2" height="85.9" fill="#d2deef"/>
<text class="tb" x="1837.0" y="633.2" font-size="58.5" text-anchor="middle" textLength="98" lengthAdjust="spacingAndGlyphs">AlK</text>
<text x="2162.0" y="633.2" font-size="55.5" text-anchor="middle" textLength="156" lengthAdjust="spacingAndGlyphs">00.04</text>
<rect x="1665.0" y="660.0" width="328.0" height="85.9" fill="#5b9bd5"/>
<rect x="1997.8" y="660.0" width="329.2" height="85.9" fill="#d2deef"/>
<text class="tb" x="1837.0" y="725.5" font-size="58.5" text-anchor="middle" textLength="90" lengthAdjust="spacingAndGlyphs">SiK</text>
<text x="2162.0" y="725.5" font-size="55.5" text-anchor="middle" textLength="156" lengthAdjust="spacingAndGlyphs">00.06</text>
<rect x="1665.0" y="750.9" width="328.0" height="86.2" fill="#5b9bd5"/>
<rect x="1997.8" y="750.9" width="329.2" height="86.2" fill="#d2deef"/>
<text class="tb" x="1837.0" y="817.8" font-size="58.5" text-anchor="middle" textLength="89" lengthAdjust="spacingAndGlyphs">S K</text>
<text x="2162.0" y="817.8" font-size="55.5" text-anchor="middle" textLength="156" lengthAdjust="spacingAndGlyphs">00.02</text>
<rect x="1665.0" y="842.5" width="328.0" height="86.5" fill="#5b9bd5"/>
<rect x="1997.8" y="842.5" width="329.2" height="86.5" fill="#d2deef"/>
<text class="tb" x="1837.0" y="910.1" font-size="58.5" text-anchor="middle" textLength="108" lengthAdjust="spacingAndGlyphs">CaK</text>
<text x="2162.0" y="910.1" font-size="55.5" text-anchor="middle" textLength="156" lengthAdjust="spacingAndGlyphs">00.03</text>
<rect x="1665.0" y="934.7" width="328.0" height="86.6" fill="#5b9bd5"/>
<rect x="1997.8" y="934.7" width="329.2" height="86.6" fill="#d2deef"/>
<text class="tb" x="1837.0" y="1002.4" font-size="58.5" text-anchor="middle" textLength="112" lengthAdjust="spacingAndGlyphs">CuK</text>
<text x="2162.0" y="1002.4" font-size="55.5" text-anchor="middle" textLength="156" lengthAdjust="spacingAndGlyphs">00.04</text>
<text transform="translate(230.9,121.4) scale(1,1.04)" font-size="66">C K<tspan font-size="43.5" dy="17.2">a</tspan></text>
<text transform="translate(468.9,693.2) scale(1,1.04)" font-size="66">Al K<tspan font-size="43.5" dy="17.2">a</tspan></text>
<text transform="translate(341.8,942.3) scale(1,1.04)" font-size="66">Cu L<tspan font-size="43.5" dy="17.2">a</tspan></text>
<text transform="translate(666.8,908.8) scale(1,1.04)" font-size="66">Si K<tspan font-size="43.5" dy="17.2">a</tspan></text>
<text transform="translate(900.3,1120.1) scale(1,1.04)" font-size="66">Ca K<tspan font-size="43.5" dy="17.2">a</tspan></text>
<text transform="translate(1832.4,1412.0) scale(1,1.04)" font-size="66">Cu K<tspan font-size="43.5" dy="17.2">a</tspan></text>
<path d="M532.5,740.0 L526.8,1006.3" stroke="#000" stroke-width="2.2" fill="none"/>
<path d="M526.0,1046.3 L515.9,1006.1 L537.8,1006.5 Z" fill="#000"/>
<path d="M438.0,964.0 L418.7,1078.6" stroke="#000" stroke-width="2.2" fill="none"/>
<path d="M412.0,1118.0 L407.8,1076.7 L429.5,1080.4 Z" fill="#000"/>
<path d="M686.0,933.0 L615.5,1013.0" stroke="#000" stroke-width="2.6" fill="none"/>
<path d="M589.0,1043.0 L607.2,1005.7 L623.7,1020.3 Z" fill="#000"/>
</svg></body></html>
